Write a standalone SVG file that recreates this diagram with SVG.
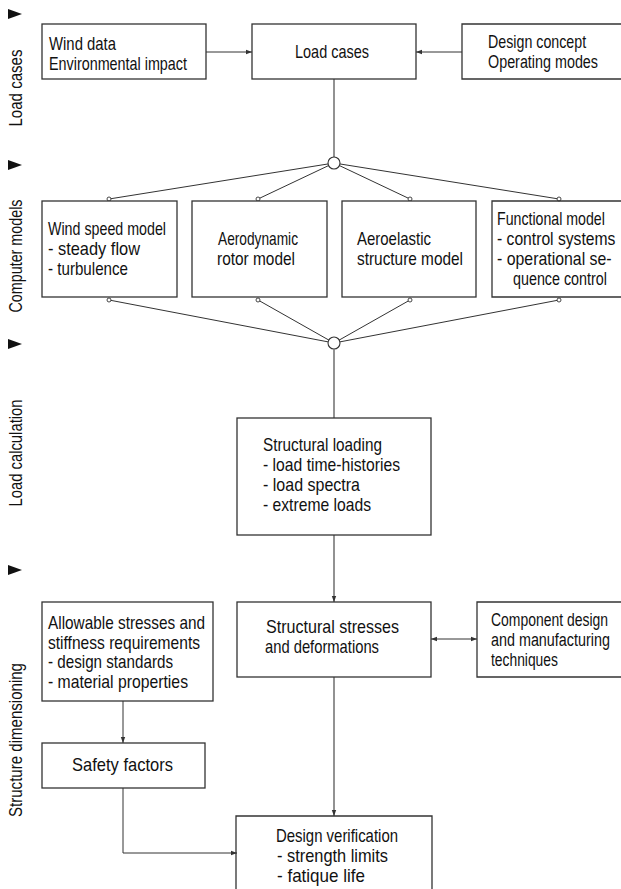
<svg xmlns="http://www.w3.org/2000/svg" width="621" height="889" viewBox="0 0 621 889">
<style>
text{font-family:"Liberation Sans","DejaVu Sans",sans-serif;font-size:19px;fill:#111;}
.box{fill:#fff;stroke:#333;stroke-width:1.3;}
.open{fill:none;stroke:#333;stroke-width:1.3;}
.ln{fill:none;stroke:#333;stroke-width:1;}
.vl{fill:none;stroke:#777;stroke-width:1.6;}
.hub{fill:#fff;stroke:#333;stroke-width:1.1;}
.dot{fill:#fff;stroke:#333;stroke-width:0.9;}
.tri{fill:#111;}
</style>
<defs>
<marker id="ah" markerUnits="userSpaceOnUse" markerWidth="7" markerHeight="6" refX="6" refY="3" orient="auto">
<path d="M0,0.8 L6,3 L0,5.2 Z" fill="#333"/>
</marker>
<marker id="ahs" markerUnits="userSpaceOnUse" markerWidth="7" markerHeight="6" refX="0" refY="3" orient="auto">
<path d="M6,0.8 L0,3 L6,5.2 Z" fill="#333"/>
</marker>
</defs>
<rect width="621" height="889" fill="#fff"/>

<g id="phase-labels">
<polygon class="tri" points="8,9 22,14 8,19"/>
<polygon class="tri" points="8,160 22,165 8,170"/>
<polygon class="tri" points="8,339 22,344 8,349"/>
<polygon class="tri" points="8,565 22,570 8,575"/>
<text transform="translate(22,88) rotate(-90)" text-anchor="middle" textLength="77" lengthAdjust="spacingAndGlyphs">Load cases</text>
<text transform="translate(22,256) rotate(-90)" text-anchor="middle" textLength="113" lengthAdjust="spacingAndGlyphs">Computer models</text>
<text transform="translate(22,453) rotate(-90)" text-anchor="middle" textLength="107" lengthAdjust="spacingAndGlyphs">Load calculation</text>
<text transform="translate(22,740) rotate(-90)" text-anchor="middle" textLength="154" lengthAdjust="spacingAndGlyphs">Structure dimensioning</text>
</g>

<g id="connectors">
<line class="ln" x1="206" y1="52" x2="252" y2="52" marker-end="url(#ah)"/>
<line class="ln" x1="462" y1="52" x2="416" y2="52" marker-end="url(#ah)"/>
<line class="vl" x1="334" y1="79" x2="334" y2="157"/>
<line class="ln" x1="334" y1="163" x2="109" y2="199"/>
<line class="ln" x1="334" y1="163" x2="258" y2="199"/>
<line class="ln" x1="334" y1="163" x2="410" y2="199"/>
<line class="ln" x1="334" y1="163" x2="559" y2="199"/>
<line class="ln" x1="334" y1="343" x2="109" y2="300"/>
<line class="ln" x1="334" y1="343" x2="258" y2="300"/>
<line class="ln" x1="334" y1="343" x2="410" y2="300"/>
<line class="ln" x1="334" y1="343" x2="559" y2="300"/>
<circle class="hub" cx="334" cy="163" r="6"/>
<circle class="hub" cx="334" cy="343" r="6"/>
<circle class="dot" cx="109" cy="199" r="2"/>
<circle class="dot" cx="258" cy="199" r="2"/>
<circle class="dot" cx="410" cy="199" r="2"/>
<circle class="dot" cx="559" cy="199" r="2"/>
<circle class="dot" cx="109" cy="300" r="2"/>
<circle class="dot" cx="258" cy="300" r="2"/>
<circle class="dot" cx="410" cy="300" r="2"/>
<circle class="dot" cx="559" cy="300" r="2"/>
<line class="vl" x1="334" y1="349" x2="334" y2="418"/>
<line class="vl" x1="334" y1="535" x2="334" y2="602" marker-end="url(#ah)"/>
<line class="ln" x1="431" y1="639" x2="477" y2="639" marker-start="url(#ahs)" marker-end="url(#ah)"/>
<line class="vl" x1="334" y1="677" x2="334" y2="816" marker-end="url(#ah)"/>
<line class="ln" x1="123" y1="701" x2="123" y2="743" marker-end="url(#ah)"/>
<polyline class="ln" points="123,788 123,853 237,853" marker-end="url(#ah)"/>
</g>

<g id="wind-data">
<rect class="box" x="42" y="24" width="164" height="55"/>
<text x="49" y="50" textLength="67" lengthAdjust="spacingAndGlyphs">Wind data</text>
<text x="49" y="70" textLength="138" lengthAdjust="spacingAndGlyphs">Environmental impact</text>
</g>
<g id="load-cases">
<rect class="box" x="252" y="24" width="164" height="55"/>
<text x="295" y="58" textLength="74" lengthAdjust="spacingAndGlyphs">Load cases</text>
</g>
<g id="design-concept">
<path class="open" d="M621,24 H462 V79 H621"/>
<text transform="translate(488,48) scale(0.75,1)">Design concept</text>
<text transform="translate(488,68) scale(0.755,1)">Operating modes</text>
</g>

<g id="wind-speed-model">
<rect class="box" x="42" y="201" width="135" height="96"/>
<text x="48" y="235" textLength="118" lengthAdjust="spacingAndGlyphs">Wind speed model</text>
<text x="48" y="255" textLength="92" lengthAdjust="spacingAndGlyphs">- steady flow</text>
<text x="48" y="275" textLength="80" lengthAdjust="spacingAndGlyphs">- turbulence</text>
</g>
<g id="aerodynamic-model">
<rect class="box" x="192" y="201" width="135" height="96"/>
<text x="218" y="245" textLength="80" lengthAdjust="spacingAndGlyphs">Aerodynamic</text>
<text x="217" y="265" textLength="78" lengthAdjust="spacingAndGlyphs">rotor model</text>
</g>
<g id="aeroelastic-model">
<rect class="box" x="342" y="201" width="134" height="96"/>
<text x="357" y="245" textLength="74" lengthAdjust="spacingAndGlyphs">Aeroelastic</text>
<text x="357" y="265" textLength="106" lengthAdjust="spacingAndGlyphs">structure model</text>
</g>
<g id="functional-model">
<path class="open" d="M621,201 H492 V297 H621"/>
<text transform="translate(497,225) scale(0.746,1)">Functional model</text>
<text transform="translate(497,245) scale(0.825,1)">- control systems</text>
<text transform="translate(497,265) scale(0.835,1)">- operational se-</text>
<text transform="translate(513,285) scale(0.754,1)">quence control</text>
</g>

<g id="structural-loading">
<rect class="box" x="237" y="418" width="194" height="117"/>
<text x="263" y="451" textLength="119" lengthAdjust="spacingAndGlyphs">Structural loading</text>
<text x="263" y="471" textLength="137" lengthAdjust="spacingAndGlyphs">- load time-histories</text>
<text x="263" y="491" textLength="97" lengthAdjust="spacingAndGlyphs">- load spectra</text>
<text x="263" y="511" textLength="108" lengthAdjust="spacingAndGlyphs">- extreme loads</text>
</g>

<g id="allowable-stresses">
<rect class="box" x="42" y="602" width="171" height="99"/>
<text x="48" y="629" textLength="157" lengthAdjust="spacingAndGlyphs">Allowable stresses and</text>
<text x="48" y="649" textLength="152" lengthAdjust="spacingAndGlyphs">stiffness requirements</text>
<text x="48" y="668" textLength="125" lengthAdjust="spacingAndGlyphs">- design standards</text>
<text x="48" y="688" textLength="140" lengthAdjust="spacingAndGlyphs">- material properties</text>
</g>
<g id="structural-stresses">
<rect class="box" x="237" y="602" width="194" height="75"/>
<text x="266" y="633" textLength="133" lengthAdjust="spacingAndGlyphs">Structural stresses</text>
<text x="265" y="653" textLength="114" lengthAdjust="spacingAndGlyphs">and deformations</text>
</g>
<g id="component-design">
<path class="open" d="M621,602 H477 V677 H621"/>
<text transform="translate(491,626) scale(0.734,1)">Component design</text>
<text transform="translate(491,646) scale(0.756,1)">and manufacturing</text>
<text transform="translate(491,666) scale(0.729,1)">techniques</text>
</g>
<g id="safety-factors">
<rect class="box" x="42" y="743" width="163" height="45"/>
<text x="72" y="771" textLength="101" lengthAdjust="spacingAndGlyphs">Safety factors</text>
</g>
<g id="design-verification">
<path class="open" d="M236,889 V816 H432 V889"/>
<text x="276" y="842" textLength="122" lengthAdjust="spacingAndGlyphs">Design verification</text>
<text x="277" y="862" textLength="111" lengthAdjust="spacingAndGlyphs">- strength limits</text>
<text x="277" y="882" textLength="88" lengthAdjust="spacingAndGlyphs">- fatique life</text>
</g>
</svg>
